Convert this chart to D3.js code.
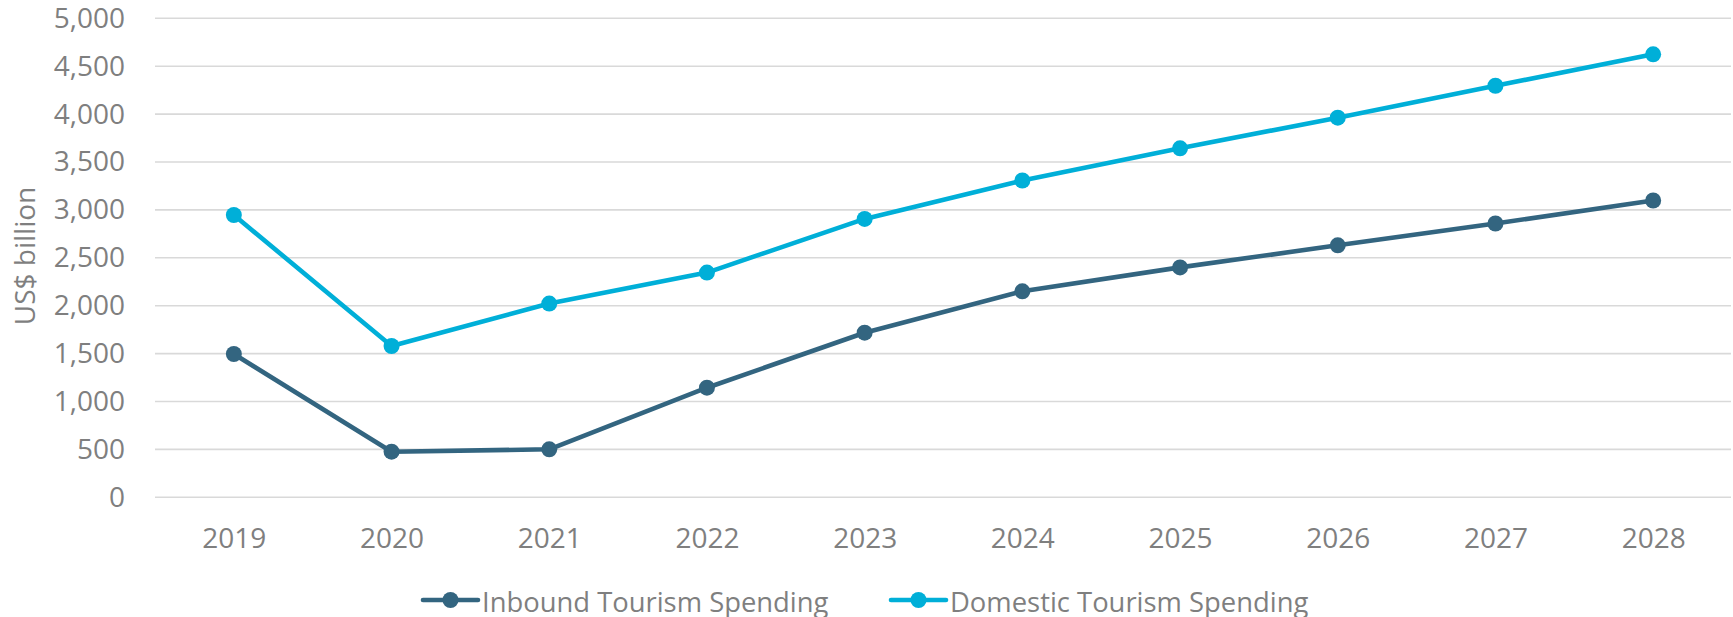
<!DOCTYPE html>
<html>
<head>
<meta charset="utf-8">
<script src="https://cdn.jsdelivr.net/npm/d3@7"></script>
<style>
  html, body { margin: 0; padding: 0; background: #ffffff; }
  svg { display: block; }
  text { font-family: "Open Sans", sans-serif; fill: #7f7f7f; }
</style>
</head>
<body>
<svg id="chart" width="1733" height="617"></svg>
<script>
const years = ["2019","2020","2021","2022","2023","2024","2025","2026","2027","2028"];
const inbound = [1496, 476, 501, 1144, 1718, 2150, 2400, 2630, 2858, 3098];
const domestic = [2947, 1579, 2022, 2346, 2906, 3307, 3643, 3963, 4296, 4624];
const yTicks = [0, 500, 1000, 1500, 2000, 2500, 3000, 3500, 4000, 4500, 5000];
const seriesNames = ["Inbound Tourism Spending", "Domestic Tourism Spending"];
const seriesColors = ["#336580", "#00afd8"];
const yTitle = "US$ billion";

const svg = d3.select("#chart");
const plotLeft = 155, plotRight = 1732, plotTop = 18.3, plotBottom = 497.3;

const x = d3.scalePoint().domain(years).range([plotLeft, plotRight]).padding(0.5);
const y = d3.scaleLinear().domain([0, 5000]).range([plotBottom, plotTop]);

// gridlines
svg.append("g").selectAll("line").data(yTicks).join("line")
  .attr("x1", plotLeft).attr("x2", plotRight - 1)
  .attr("y1", d => y(d)).attr("y2", d => y(d))
  .attr("stroke", "#d9d9d9").attr("stroke-width", 1.6);

// y axis
const yAxis = svg.append("g").attr("transform", `translate(${plotLeft},0)`)
  .call(d3.axisLeft(y).tickValues(yTicks).tickFormat(d3.format(",")).tickSize(0).tickPadding(30));
yAxis.select(".domain").remove();
yAxis.selectAll("text").attr("font-size", 28).attr("font-family", "Open Sans").attr("fill", "#7f7f7f");

// x axis
const xAxis = svg.append("g").attr("transform", `translate(0,${plotBottom})`)
  .call(d3.axisBottom(x).tickSize(0).tickPadding(31));
xAxis.select(".domain").remove();
xAxis.selectAll("text").attr("font-size", 28).attr("font-family", "Open Sans").attr("fill", "#7f7f7f");

// y title
svg.append("text")
  .attr("transform", `translate(35,256) rotate(-90)`)
  .attr("text-anchor", "middle")
  .attr("font-size", 28)
  .text(yTitle);

const line = d3.line().x((d, i) => x(years[i])).y(d => y(d));
const allSeries = [inbound, domestic];

allSeries.forEach((vals, si) => {
  svg.append("path").datum(vals)
    .attr("d", line)
    .attr("fill", "none")
    .attr("stroke", seriesColors[si])
    .attr("stroke-width", 4.6)
    .attr("stroke-linejoin", "round");
  svg.append("g").selectAll("circle").data(vals).join("circle")
    .attr("cx", (d, i) => x(years[i]))
    .attr("cy", d => y(d))
    .attr("r", 8)
    .attr("fill", seriesColors[si]);
});

// legend
const legendPos = [423, 891];
const legendY = 600;
seriesNames.forEach((name, i) => {
  const g = svg.append("g").attr("transform", `translate(${legendPos[i]},${legendY})`);
  g.append("line").attr("x1", 0).attr("x2", 55).attr("y1", 0).attr("y2", 0)
    .attr("stroke", seriesColors[i]).attr("stroke-width", 4.6).attr("stroke-linecap", "round");
  g.append("circle").attr("cx", 27.5).attr("cy", 0).attr("r", 8).attr("fill", seriesColors[i]);
  g.append("text").attr("x", 59).attr("y", 11.5).attr("font-size", 27.4).text(name);
});
</script>
</body>
</html>
